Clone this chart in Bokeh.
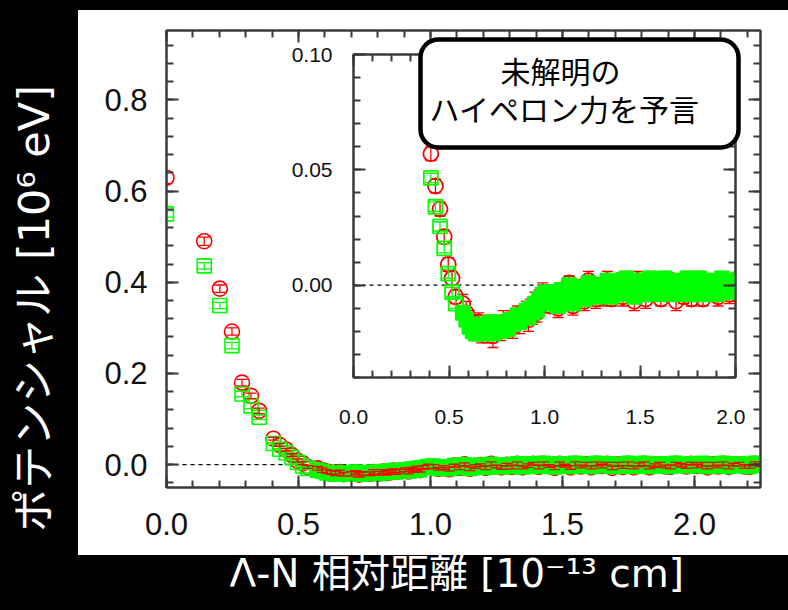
from bokeh.plotting import figure
from bokeh.models import (Range1d, LinearAxis, SingleIntervalTicker, NumeralTickFormatter,
                          Span, Label, BoxAnnotation, GridBox, GlobalInlineStyleSheet, Div,
                          CustomLabelingPolicy)
from bokeh.embed import file_html
from bokeh.resources import INLINE
import math

# ---------------- data ----------------
dist = [
    0.000, 0.143, 0.202, 0.248, 0.286, 0.320, 0.351,
    0.405, 0.429, 0.453, 0.475, 0.496, 0.516, 0.535, 0.572, 0.590, 0.607, 0.624, 0.640,
    0.656, 0.671, 0.701, 0.716, 0.730, 0.744, 0.771, 0.784, 0.809, 0.822, 0.834, 0.847,
    0.859, 0.870, 0.882, 0.905, 0.916, 0.927, 0.938, 0.949, 0.960, 0.971, 0.991,
    1.011, 1.030, 1.050, 1.071, 1.090, 1.110, 1.129, 1.149, 1.170, 1.189,
    1.209, 1.230, 1.249, 1.269, 1.290, 1.309, 1.329, 1.350, 1.369, 1.389,
    1.410, 1.429, 1.449, 1.470, 1.489, 1.509, 1.530, 1.549, 1.569, 1.590,
    1.609, 1.629, 1.650, 1.669, 1.689, 1.710, 1.729, 1.749, 1.770, 1.789,
    1.809, 1.830, 1.849, 1.869, 1.890, 1.909, 1.929, 1.950, 1.969, 1.989,
    2.010, 2.029, 2.049, 2.070, 2.089, 2.109, 2.130, 2.149, 2.169, 2.190,
    2.209, 2.229, 2.249,
]
pot_red = [
    0.629, 0.490, 0.386, 0.292, 0.180, 0.151, 0.118,
    0.057, 0.043, 0.033, 0.021, 0.009, 0.003, -0.005, -0.008, -0.012, -0.015, -0.017, -0.019,
    -0.016, -0.021, -0.020, -0.017, -0.022, -0.019, -0.020, -0.016, -0.019, -0.015, -0.018, -0.017,
    -0.013, -0.016, -0.014, -0.011, -0.015, -0.010, -0.013, -0.008, -0.012, -0.006, -0.004,
    -0.004, -0.009, -0.006, -0.010, -0.002, -0.007, 0.001, -0.009, -0.004, -0.001,
    -0.007, 0.002, -0.004, -0.006, 0.000, -0.005, 0.002, -0.006, -0.002, 0.002,
    -0.005, 0.002, -0.003, -0.007, 0.002, -0.002, -0.006, 0.002, -0.004, 0.001,
    -0.006, 0.002, -0.003, 0.002, -0.007, 0.001, -0.005, 0.002, -0.006, 0.000,
    0.002, -0.006, -0.002, 0.001, -0.004, -0.005, 0.002, -0.001, -0.004, 0.002,
    -0.003, 0.001, -0.006, 0.001, -0.004, 0.002, -0.005, 0.000, 0.001, -0.004,
    -0.005, 0.002, -0.001,
]
pot_green = [
    0.550, 0.436, 0.349, 0.261, 0.155, 0.129, 0.104,
    0.0465, 0.034, 0.0255, 0.016, 0.005, -0.003, -0.008, -0.012, -0.015, -0.018, -0.020, -0.021,
    -0.017, -0.021, -0.019, -0.016, -0.021, -0.018, -0.020, -0.016, -0.019, -0.015, -0.017, -0.016,
    -0.013, -0.016, -0.013, -0.011, -0.014, -0.010, -0.012, -0.008, -0.011, -0.006, -0.004,
    -0.003, -0.008, -0.005, -0.009, -0.002, -0.006, 0.000, -0.008, -0.003, -0.001,
    -0.006, 0.001, -0.003, -0.005, 0.000, -0.004, 0.002, -0.005, -0.001, 0.002,
    -0.004, 0.003, -0.002, -0.005, 0.002, -0.001, -0.004, 0.003, -0.003, 0.001,
    -0.004, 0.003, -0.002, 0.002, -0.004, 0.001, -0.003, 0.003, -0.004, 0.000,
    0.003, -0.004, -0.001, 0.002, -0.003, -0.004, 0.003, 0.000, -0.003, 0.002,
    -0.002, 0.003, -0.004, 0.001, -0.003, 0.003, -0.004, 0.000, 0.002, -0.003,
    -0.004, 0.003, -0.001,
]
err_red = [
    0.012, 0.009, 0.008, 0.008, 0.007, 0.006, 0.006,
    0.003, 0.003, 0.003, 0.003, 0.003, 0.003, 0.003,
    0.004, 0.005, 0.004, 0.004, 0.005, 0.004, 0.004,
    0.005, 0.004, 0.005, 0.004, 0.004, 0.005, 0.004,
    0.004, 0.005, 0.004, 0.004, 0.005, 0.004, 0.004,
    0.005, 0.004, 0.004, 0.005, 0.004, 0.004, 0.005,
    0.004, 0.003, 0.004, 0.004, 0.003, 0.004, 0.003,
    0.004, 0.004, 0.003, 0.004, 0.004, 0.003, 0.004,
    0.003, 0.004, 0.004, 0.003, 0.004, 0.003, 0.004,
    0.004, 0.003, 0.004, 0.004, 0.003, 0.004, 0.004,
    0.003, 0.004, 0.003, 0.004, 0.004, 0.003, 0.004,
    0.004, 0.003, 0.004, 0.003, 0.004, 0.004, 0.003,
    0.004, 0.004, 0.003, 0.004, 0.003, 0.004, 0.004,
    0.003, 0.004, 0.004, 0.003, 0.004, 0.003, 0.004,
    0.004, 0.003, 0.004, 0.004, 0.003, 0.004, 0.003,
]
err_green = [
    0.007, 0.007, 0.007, 0.007, 0.006, 0.006, 0.005,
    0.002, 0.002, 0.002, 0.002, 0.002, 0.002, 0.002,
    0.002, 0.002, 0.002, 0.002, 0.002, 0.002, 0.002,
    0.002, 0.002, 0.002, 0.002, 0.002, 0.002, 0.002,
    0.002, 0.002, 0.002, 0.002, 0.002, 0.002, 0.002,
    0.002, 0.002, 0.002, 0.002, 0.002, 0.002, 0.002,
    0.0015, 0.0015, 0.0015, 0.0015, 0.0015, 0.0015, 0.0015,
    0.0015, 0.0015, 0.0015, 0.0015, 0.0015, 0.0015, 0.0015,
    0.0015, 0.0015, 0.0015, 0.0015, 0.0015, 0.0015, 0.0015,
    0.0015, 0.0015, 0.0015, 0.0015, 0.0015, 0.0015, 0.0015,
    0.0015, 0.0015, 0.0015, 0.0015, 0.0015, 0.0015, 0.0015,
    0.0015, 0.0015, 0.0015, 0.0015, 0.0015, 0.0015, 0.0015,
    0.0015, 0.0015, 0.0015, 0.0015, 0.0015, 0.0015, 0.0015,
    0.0015, 0.0015, 0.0015, 0.0015, 0.0015, 0.0015, 0.0015,
    0.0015, 0.0015, 0.0015, 0.0015, 0.0015, 0.0015, 0.0015,
]
assert len(dist) == len(pot_red) == len(pot_green) == len(err_red) == len(err_green)

y_title = "ポテンシャル [10⁶ eV]"
x_title = "Λ-N 相対距離 [10⁻¹³ cm]"
note_lines = ["未解明の", "ハイペロン力を予言"]

# ---------------- styling ----------------
AXC = "#3a3a3a"
RED = "#ff0000"
GREEN = "#00ff00"
JP = "Noto Sans CJK JP"
TITLE_FONT = "DejaVu Sans, Noto Sans CJK JP"
DENSE_FROM = 0.55          # where overlapping squares merge into a solid band
# every overlaid figure gets the same borders (the grid aligns them)
BL, BR, BT, BB = 66, 10, 10, 64


def add_frame_axes(p, xint, yint, xfmt, yfmt, fsize, xstand, ystand):
    specs = [("below", xint, xfmt, True, xstand), ("above", xint, xfmt, False, 0),
             ("left", yint, yfmt, True, ystand), ("right", yint, yfmt, False, 0)]
    for side, interval, fmt, labelled, stand in specs:
        ax = LinearAxis(ticker=SingleIntervalTicker(interval=interval, num_minor_ticks=5),
                        formatter=NumeralTickFormatter(format=fmt))
        ax.axis_line_color = AXC
        ax.axis_line_width = 2
        ax.major_tick_in = 12
        ax.major_tick_out = 0
        ax.minor_tick_in = 7
        ax.minor_tick_out = 0
        ax.major_tick_line_color = AXC
        ax.major_tick_line_width = 2
        ax.minor_tick_line_color = AXC
        ax.minor_tick_line_width = 2
        ax.major_label_text_font = "Liberation Sans"
        ax.major_label_text_color = "#111111"
        ax.major_label_standoff = stand
        if labelled:
            ax.major_label_text_font_size = fsize
        else:
            ax.major_label_text_font_size = "1px"
            ax.major_label_policy = CustomLabelingPolicy(
                code="for (const i of indices) { if (false) { yield i } }")
        p.add_layout(ax, side)


def bars(p, xs, ys, es, color, cap):
    lo = [y - e for y, e in zip(ys, es)]
    hi = [y + e for y, e in zip(ys, es)]
    p.segment(xs, lo, xs, hi, line_color=color, line_width=1.3)
    p.scatter(xs, lo, marker="dash", size=cap, line_color=color, line_width=1.3)
    p.scatter(xs, hi, marker="dash", size=cap, line_color=color, line_width=1.3)


def draw_data(p, idx, lw, red_bars_on_top):
    xs = [dist[i] for i in idx]
    ry = [pot_red[i] for i in idx]
    re_ = [err_red[i] for i in idx]
    gy = [pot_green[i] for i in idx]
    ge = [err_green[i] for i in idx]
    p.scatter(xs, ry, marker="circle", size=15, fill_color=None, line_color=RED, line_width=lw)
    if not red_bars_on_top:
        bars(p, xs, ry, re_, RED, 11)
    sparse = [k for k, x in enumerate(xs) if x < DENSE_FROM]
    dense = [k for k, x in enumerate(xs) if x >= DENSE_FROM]
    p.scatter([xs[k] for k in sparse], [gy[k] for k in sparse], marker="square", size=14,
              fill_color=None, line_color=GREEN, line_width=lw)
    p.scatter([xs[k] for k in dense], [gy[k] for k in dense], marker="square", size=14,
              fill_color=GREEN, line_color=GREEN, line_width=lw)
    bars(p, xs, gy, ge, GREEN, 13)
    if red_bars_on_top:
        bars(p, xs, ry, re_, RED, 11)


def make_fig(w, h, xr, yr):
    f = figure(width=w, height=h, x_range=xr, y_range=yr, output_backend="svg",
               toolbar_location=None, x_axis_location=None, y_axis_location=None,
               min_border_left=BL, min_border_right=BR, min_border_top=BT, min_border_bottom=BB,
               border_fill_alpha=0)
    f.grid.visible = False
    return f


# ---------------- white panel ----------------
panel = Div(text="", width=710, height=545, styles={"background-color": "white"})
panel.margin = (10, 0, 0, 78)

# ---------------- main plot ----------------
main = make_fig(BL + 594 + BR, BT + 457 + BB, Range1d(0, 2.25), Range1d(-0.05, 0.952))
main.background_fill_color = "white"
main.outline_line_color = AXC
main.outline_line_width = 2
add_frame_axes(main, 0.5, 0.2, "0.0", "0.0", "31px", 25, 19)
main.add_layout(Span(location=0, dimension="width", line_color="black", line_dash="4 4",
                     line_width=1.3, level="underlay"))
draw_data(main, list(range(len(dist))), 1.6, True)
main.margin = (30 - BT, 0, 0, 166 - BL)

# ---------------- inset ----------------
inset = make_fig(BL + 382 + BR, BT + 323 + BB, Range1d(0, 2.0), Range1d(-0.04, 0.10))
inset.background_fill_color = "white"
inset.outline_line_color = AXC
inset.outline_line_width = 2
add_frame_axes(inset, 0.5, 0.05, "0.0", "0.00", "21px", 32, 21)
inset.add_layout(Span(location=0, dimension="width", line_color="black", line_dash="4 4",
                      line_width=1.3, level="underlay"))
draw_data(inset, [i for i, d in enumerate(dist) if 0.4 <= d <= 2.05], 1.8, False)
inset.margin = (54 - BT, 0, 0, 353 - BL)

# ---------------- rounded note box ----------------
note = make_fig(BL + 330 + BR, BT + 120 + BB, Range1d(414, 744), Range1d(153, 33))
note.background_fill_alpha = 0
note.outline_line_color = None
note.add_layout(BoxAnnotation(left=420, right=738, top=39, bottom=147,
                              fill_color="white", fill_alpha=1.0, line_color="black",
                              line_alpha=1.0, line_width=4.5, border_radius=18))
note.add_layout(Label(x=560, y=69, text=note_lines[0], text_align="center",
                      text_baseline="middle", text_color="black", text_font=JP,
                      text_font_size="30px"))
note.add_layout(Label(x=564, y=107, text=note_lines[1], text_align="center",
                      text_baseline="middle", text_color="black", text_font=JP,
                      text_font_size="30px"))
note.margin = (33 - BT, 0, 0, 414 - BL)

# ---------------- axis titles (white on black), page coordinates ----------------
titles = make_fig(BL + 788 + BR, BT + 610 + BB, Range1d(0, 788), Range1d(610, 0))
titles.background_fill_alpha = 0
titles.outline_line_color = None
titles.add_layout(Label(x=37, y=313, text=y_title, angle=math.pi / 2, text_align="center",
                        text_baseline="middle", text_color="white", text_font=TITLE_FONT,
                        text_font_size="43px"))
titles.add_layout(Label(x=498, y=583, text=x_title, text_align="center",
                        text_baseline="middle", text_color="white", text_font=TITLE_FONT,
                        text_font_size="39px"))
titles.margin = (-BT, 0, 0, -BL)

# ---------------- overlay layout ----------------
root = GridBox(children=[(panel, 0, 0), (main, 0, 0), (inset, 0, 0), (note, 0, 0),
                         (titles, 0, 0)])
root.stylesheets = [GlobalInlineStyleSheet(
    css="html, body {margin:0 !important; padding:0 !important; background:#000000; overflow:hidden;}")]

p = root
open("out.html", "w").write(file_html(p, INLINE))
